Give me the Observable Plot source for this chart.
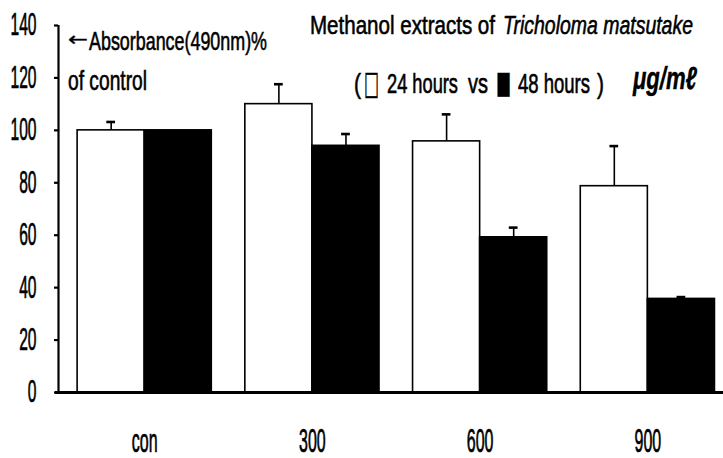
<!DOCTYPE html>
<html><head><meta charset="utf-8">
<script src="https://cdn.jsdelivr.net/npm/d3@7"></script>
<script src="https://cdn.jsdelivr.net/npm/@observablehq/plot@0.6"></script>
<style>
body{margin:0;background:#fff;}
#wrap{position:relative;width:723px;height:458px;}
</style></head><body>
<div id="wrap"></div>
<script>
// ---- data ----
const doses = ["con", "300", "600", "900"];
const series = ["24 hours", "48 hours"];
const mean24 = [100, 110, 95.8, 78.7];
const err24 = [3.2, 7.6, 10.3, 15.3];
const mean48 = [100, 94.1, 59.2, 35.7];
const err48 = [0, 4.5, 3.7, 0.7];
const yTicks = [0, 20, 40, 60, 80, 100, 120, 140];

// ---- table ----
const rows = [];
doses.forEach((d, i) => {
  rows.push({dose: d, i, series: series[0], value: mean24[i], err: err24[i], side: -1});
  rows.push({dose: d, i, series: series[1], value: mean48[i], err: err48[i], side: 1});
});
const half = 0.4;          // bar width in group units
const cap = 0.026;         // error-bar cap half width
const xc = d => d.i + d.side * half / 2;
const withErr = rows.filter(d => d.err > 0);

const FONT = '"Liberation Sans",Arial,sans-serif';

const chart = Plot.plot({
  width: 723, height: 458,
  marginLeft: 58, marginRight: 0, marginTop: 25, marginBottom: 66,
  style: {fontFamily: FONT, fontSize: "20px", color: "#000", background: "#fff"},
  x: {type: "linear", domain: [-0.514, 3.451], axis: null},
  y: {domain: [0, 140], axis: null},
  marks: [
    Plot.rectY(rows, {
      x1: d => d.side < 0 ? d.i - half : d.i,
      x2: d => d.side < 0 ? d.i : d.i + half,
      y1: 0, y2: "value",
      fill: d => d.series === series[0] ? "#fff" : "#000",
      stroke: "#000", strokeWidth: 1.6
    }),
    Plot.ruleX(withErr, {x: xc, y1: "value", y2: d => d.value + d.err, stroke: "#000", strokeWidth: 1.6}),
    Plot.ruleY(withErr, {x1: d => xc(d) - cap, x2: d => xc(d) + cap, y: d => d.value + d.err, stroke: "#000", strokeWidth: 2.6}),
    Plot.ruleY([0], {stroke: "#000", strokeWidth: 3, insetLeft: -3}),
    Plot.ruleX([-0.514], {y1: 0, y2: 140, stroke: "#000", strokeWidth: 2.2}),
    Plot.axisY({ticks: yTicks, tickSize: 4, tickPadding: 18, tickFormat: d => String(d), strokeWidth: 2.2, label: null}),
    Plot.axisX({ticks: [0, 1, 2, 3], tickFormat: i => doses[i], tickSize: 0, tickPadding: 36, label: null})
  ]
});
document.getElementById("wrap").appendChild(chart);

const svg = d3.select(chart);
// tall, narrow type like the reference (Arial Narrow, stretched)
function stretch(sel, sx, sy) {
  svg.selectAll(sel).each(function() {
    const t = this.getAttribute("transform") || "";
    this.setAttribute("transform", t + ` scale(${sx},${sy})`);
    this.setAttribute("stroke", "#000");
    this.setAttribute("stroke-width", "0.45");
  });
}
stretch("g[aria-label='y-axis tick label'] text", 0.78, 1.55);
stretch("g[aria-label='x-axis tick label'] text", 0.8, 1.62);

// ---- annotations inside the same svg ----
function ann(x, y, w, size, sy, text, extra = {}) {
  svg.append("text")
    .attr("transform", `translate(${x},${y}) scale(1,${sy})`)
    .attr("text-anchor", "start")
    .attr("font-family", extra.family || FONT)
    .attr("font-size", size)
    .attr("font-weight", extra.weight || "normal")
    .attr("font-style", extra.style || "normal")
    .attr("fill", "#000")
    .attr("stroke", "#000")
    .attr("stroke-width", extra.sw ?? 0.45)
    .attr("textLength", w)
    .attr("lengthAdjust", "spacingAndGlyphs")
    .text(text);
}
// title
ann(310, 34, 185, 20, 1.33, "Methanol extracts of");
ann(503, 34, 190, 20, 1.33, "Tricholoma matsutake", {style: "italic"});
// legend line
ann(354, 93, 7, 20, 1.4, "(");
ann(364, 94, 15, 22, 1.5, "\u25A1", {family: "DejaVu Sans", sw: 0.3});
ann(387, 93, 71, 20, 1.4, "24 hours");
ann(468, 93, 20, 20, 1.4, "vs");
ann(496, 93, 15, 24, 1.3, "\u25A0", {family: "DejaVu Sans", sw: 0.2});
ann(518, 93, 72, 20, 1.4, "48 hours");
ann(597, 93, 7, 20, 1.4, ")");
ann(633, 89, 64, 22, 1.45, "\u03BCg/m\u2113", {weight: "bold", style: "italic", sw: 0.3});
// y-axis annotation
ann(68, 46, 20, 20, 1.0, "\u2190", {family: "DejaVu Sans", sw: 0.3});
ann(89, 50, 178, 20, 1.28, "Absorbance(490nm)%");
ann(68, 90, 79, 20, 1.35, "of control");
</script>
</body></html>
